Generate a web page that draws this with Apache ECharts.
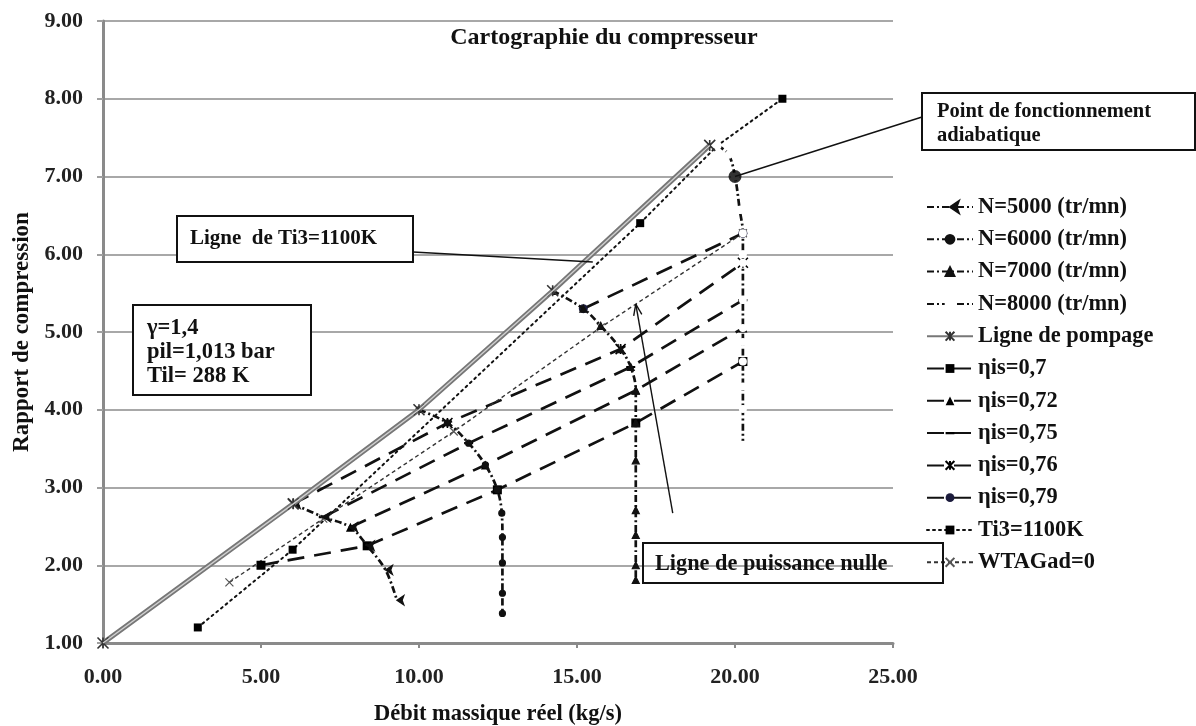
<!DOCTYPE html>
<html>
<head>
<meta charset="utf-8">
<script src="https://cdn.jsdelivr.net/npm/echarts@6/dist/echarts.min.js"></script>
<style>
  html, body { margin: 0; padding: 0; background: #fff; }
  #chart { width: 1196px; height: 726px; }
</style>
</head>
<body>
<div id="chart"></div>
<script>
// Axis ticks
const xTicks = [0, 5, 10, 15, 20, 25];
const yTicks = [1, 2, 3, 4, 5, 6, 7, 8, 9];

// Surge line (ligne de pompage): [débit kg/s, rapport de compression]
const surgeLine = [[0, 1.0], [6.02, 2.79], [10.0, 4.0], [14.23, 5.53], [19.2, 7.4]];

// Speed lines
const n5000 = [[6.02, 2.79], [6.97, 2.62], [7.83, 2.49], [8.36, 2.25], [8.94, 1.94], [9.3, 1.55]];
const n6000 = [[10.0, 4.0], [10.9, 3.83], [11.57, 3.57], [12.1, 3.29], [12.48, 2.97], [12.62, 2.67],
               [12.64, 2.36], [12.64, 2.03], [12.64, 1.64], [12.64, 1.38]];
const n7000 = [[14.23, 5.53], [15.2, 5.3], [15.75, 5.08], [16.38, 4.78], [16.7, 4.55], [16.86, 4.25],
               [16.86, 3.83], [16.86, 3.35], [16.86, 2.71], [16.86, 2.39], [16.86, 2.0], [16.86, 1.81]];
const n8000 = [[19.45, 7.4], [19.8, 7.28], [20.0, 7.0], [20.15, 6.57], [20.25, 6.27], [20.25, 6.0],
               [20.25, 5.89], [20.25, 5.41], [20.25, 5.05], [20.25, 4.87], [20.25, 4.62], [20.25, 4.3],
               [20.25, 4.01], [20.25, 3.55]];

// Iso-efficiency lines
const eta070 = [[5.0, 2.0], [8.36, 2.25], [12.48, 2.97], [16.86, 3.83], [20.25, 4.62]];
const eta072 = [[7.83, 2.49], [12.1, 3.29], [16.86, 4.25], [20.25, 5.05]];
const eta075 = [[6.97, 2.62], [11.57, 3.57], [16.7, 4.55], [20.25, 5.41]];
const eta076 = [[6.02, 2.79], [10.9, 3.83], [16.38, 4.78], [20.25, 5.89]];
const eta079 = [[15.2, 5.3], [20.25, 6.27]];

// Turbine inlet temperature limit and zero-power line
const ti3Line = [[3.0, 1.2], [6.0, 2.2], [17.0, 6.4], [19.45, 7.4], [21.5, 8.0]];
const ti3Hidden = [false, false, false, true, false];
const wtaZero = [[4.0, 1.78], [6.97, 2.6], [11.1, 3.72], [15.75, 5.06], [20.25, 6.27]];

// Adiabatic operating point
const adiabaticPoint = [[20.0, 7.0]];

// Callout targets (data coordinates)
const ti3CalloutTarget = [15.5, 5.9];
const zeroPowerArrow = [[18.03, 2.67], [16.86, 5.36]];

const seriesNames = ['N=5000 (tr/mn)', 'N=6000 (tr/mn)', 'N=7000 (tr/mn)', 'N=8000 (tr/mn)',
  'Ligne de pompage', 'ηis=0,7', 'ηis=0,72', 'ηis=0,75', 'ηis=0,76', 'ηis=0,79',
  'Ti3=1100K', 'WTAGad=0'];

const FONT = 'Liberation Serif, Times New Roman, serif';
const STAR = 'path://M0,0L10,10M10,0L0,10M5,0L5,10';
const CROSS = 'path://M0,0L10,10M10,0L0,10';
// short horizontal bar inside a square frame (degenerate corners keep the bounds square)
const BAR = 'path://M0,0L0,0ZM0,3.8L10,3.8L10,6.2L0,6.2ZM10,10L10,10Z';

function speedSeries(name, data, symbol, size, fill) {
  return {
    name, type: 'line', data, smooth: 0.35, z: 4,
    symbol, symbolSize: size, symbolRotate: symbol === 'arrow' ? 90 : 0,
    lineStyle: { color: '#111', width: 2.7, type: [7, 3, 2, 3] },
    itemStyle: { color: fill, borderColor: '#111', borderWidth: 1.2 }
  };
}
function etaSeries(name, data, symbol, size, color, stroke) {
  return {
    name, type: 'line', data, z: 3,
    symbol, symbolSize: size,
    lineStyle: { color: '#111', width: 2.7, type: [17, 10] },
    itemStyle: stroke
      ? { color: 'transparent', borderColor: color, borderWidth: 1.6 }
      : { color, borderColor: color, borderWidth: 0 }
  };
}

const chart = echarts.init(document.getElementById('chart'), null, { renderer: 'canvas' });

const option = {
  animation: false,
  backgroundColor: '#fff',
  grid: { left: 103, right: 303, top: 21, bottom: 83, containLabel: false, outerBoundsMode: 'none' },
  xAxis: {
    type: 'value', min: xTicks[0], max: xTicks[xTicks.length - 1], interval: xTicks[1] - xTicks[0],
    name: 'Débit massique réel (kg/s)', nameLocation: 'middle', nameGap: 60,
    nameTextStyle: { fontFamily: FONT, fontWeight: 'bold', fontSize: 22.5, color: '#111' },
    axisLine: { show: true, lineStyle: { color: '#8a8a8a', width: 3 } },
    axisTick: { show: true, length: 5, lineStyle: { color: '#8a8a8a', width: 2 } },
    splitLine: { show: false },
    axisLabel: { formatter: v => v.toFixed(2), fontFamily: FONT, fontWeight: 'bold', fontSize: 22, color: '#222', margin: 23 }
  },
  yAxis: {
    type: 'value', min: yTicks[0], max: yTicks[yTicks.length - 1], interval: yTicks[1] - yTicks[0],
    name: 'Rapport de compression', nameLocation: 'middle', nameGap: 67, nameRotate: 90,
    nameTextStyle: { fontFamily: FONT, fontWeight: 'bold', fontSize: 23, color: '#111' },
    axisLine: { show: true, lineStyle: { color: '#8a8a8a', width: 3 } },
    axisTick: { show: true, length: 6, lineStyle: { color: '#a0a0a0', width: 2 } },
    splitLine: { show: true, lineStyle: { color: '#a8a8a8', width: 2 } },
    axisLabel: { formatter: v => v.toFixed(2), fontFamily: FONT, fontWeight: 'bold', fontSize: 22, color: '#222', margin: 20 }
  },
  legend: {
    orient: 'vertical', left: 926, top: 196, padding: 0,
    itemWidth: 46, itemHeight: 11, itemGap: 10.3,
    data: seriesNames,
    textStyle: { fontFamily: FONT, fontWeight: 'bold', fontSize: 22.4, color: '#111', lineHeight: 22 }
  },
  series: [
    etaSeries(seriesNames[5], eta070, 'rect', 9, '#000', false),
    etaSeries(seriesNames[6], eta072, 'triangle', 9, '#000', false),
    etaSeries(seriesNames[7], eta075, BAR, 9, '#000', false),
    etaSeries(seriesNames[8], eta076, STAR, 10, '#000', true),
    etaSeries(seriesNames[9], eta079, 'circle', 9, '#1b1b3c', false),
    speedSeries(seriesNames[0], n5000, 'arrow', 7, '#111'),
    speedSeries(seriesNames[1], n6000, 'circle', 6, '#111'),
    speedSeries(seriesNames[2], n7000, 'triangle', 7, '#111'),
    speedSeries(seriesNames[3], n8000, 'emptyCircle', 6, '#fff'),
    {
      name: seriesNames[10], type: 'line', z: 3,
      data: ti3Line.map((p, i) => ti3Hidden[i] ? { value: p, symbol: 'none' } : p),
      symbol: 'rect', symbolSize: 8,
      lineStyle: { color: '#111', width: 2, type: [2, 4], cap: 'round' },
      itemStyle: { color: '#000' }
    },
    {
      name: seriesNames[11], type: 'line', data: wtaZero, z: 3,
      symbol: CROSS, symbolSize: 8,
      lineStyle: { color: '#333', width: 1.4, type: [4, 3] },
      itemStyle: { color: 'transparent', borderColor: '#555', borderWidth: 1.2 }
    },
    {
      name: seriesNames[4], type: 'line', data: surgeLine, z: 5,
      symbol: STAR, symbolSize: 11,
      lineStyle: { color: '#777', width: 5 },
      itemStyle: { color: 'transparent', borderColor: '#333', borderWidth: 1.6 }
    },
    {
      name: 'pompage-centre', type: 'line', data: surgeLine, z: 6, symbol: 'none',
      lineStyle: { color: '#cfcfcf', width: 1.4 }, silent: true
    },
    {
      name: 'point-adiabatique', type: 'scatter', data: adiabaticPoint, z: 7,
      symbol: 'circle', symbolSize: 13, itemStyle: { color: '#000' }
    }
  ]
};
chart.setOption(option);

// Annotation boxes and callouts
const px = p => chart.convertToPixel({ gridIndex: 0 }, p);
const txt = (x, y, text, size, extra) => Object.assign({
  type: 'text', x, y, z: 20,
  style: Object.assign({ text, fill: '#111', font: 'bold ' + size + 'px ' + FONT, textVerticalAlign: 'middle' }, extra || {})
});
const box = (x, y, w, h, fill) => ({
  type: 'rect', z: 19, shape: { x, y, width: w, height: h },
  style: { fill: fill, stroke: '#111', lineWidth: 2 }
});
const seg = (a, b, w) => ({
  type: 'line', z: 18, shape: { x1: a[0], y1: a[1], x2: b[0], y2: b[1] },
  style: { stroke: '#111', lineWidth: w || 1.4 }
});

const adPx = px(adiabaticPoint[0]);
const ti3Px = px(ti3CalloutTarget);
const arrA = px(zeroPowerArrow[0]);
const arrB = px(zeroPowerArrow[1]);
const ang = Math.atan2(arrB[1] - arrA[1], arrB[0] - arrA[0]);
const head = s => [arrB[0] - 12 * Math.cos(ang + s), arrB[1] - 12 * Math.sin(ang + s)];

chart.setOption({
  graphic: [
    txt(604, 38, 'Cartographie du compresseur', 24, { textAlign: 'center' }),

    seg([922, 117], adPx),
    box(922, 93, 273, 57, '#fff'),
    txt(937, 112, 'Point de fonctionnement', 20.5),
    txt(937, 136, 'adiabatique', 20.5),

    seg([413, 252], ti3Px),
    box(177, 216, 236, 46, '#fff'),
    txt(190, 239, 'Ligne  de Ti3=1100K', 21),

    box(133, 305, 178, 90, '#fff'),
    txt(147, 328, 'γ=1,4', 22.5),
    txt(147, 352, 'pil=1,013 bar', 22.5),
    txt(147, 376, 'Til= 288 K', 22.5),

    seg(arrA, arrB),
    seg(arrB, head(0.35)),
    seg(arrB, head(-0.35)),
    box(643, 543, 300, 40, 'transparent'),
    txt(655, 564, 'Ligne de puissance nulle', 22.3)
  ]
});
</script>
</body>
</html>
